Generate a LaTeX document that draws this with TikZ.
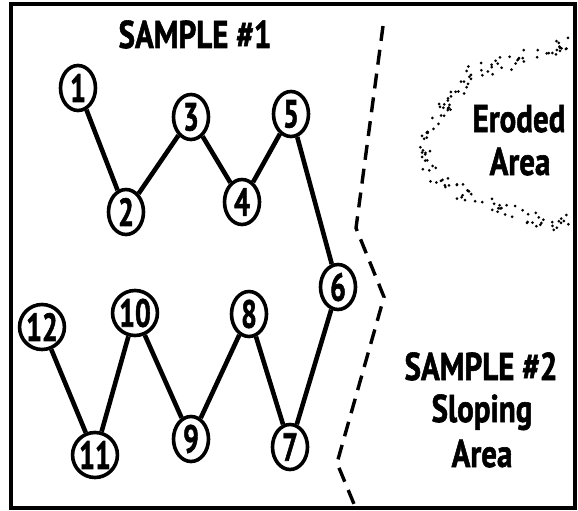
\documentclass[tikz,border=0pt]{standalone}
\usepackage{fontspec}
\usepackage{graphicx}
\setmainfont{PT Sans}[BoldFeatures={FakeBold=1.6}]
\usetikzlibrary{shapes.geometric,calc}
\tikzset{
  stn/.style={ellipse, draw, line width=3.6pt, fill=white, minimum width=35pt, minimum height=45pt, inner sep=0pt,
    font=\fontsize{28}{30}\selectfont\bfseries},
  link/.style={line width=4.6pt},
  lbl/.style={anchor=base, inner sep=0pt, font=\fontsize{31}{34}\selectfont\bfseries},
  bound/.style={line width=3.4pt, dash pattern=on 15pt off 9pt},
  frame/.style={line width=3.4pt},
  grain/.style={fill=black}
}
\newcommand{\tall}[1]{\scalebox{1}[1.25]{#1}}
\newcommand{\dgt}[1]{\scalebox{1}[1.4]{#1}}
\begin{document}
\begin{tikzpicture}[x=1pt,y=-1pt]
\useasboundingbox (0,0) rectangle (578,511);
\fill[white] (0,0) rectangle (578,511);
\draw[frame] (11,4) rectangle (575,508);

% stations
\node[stn] (n1) at (78,88) {\dgt{1}};
\node[stn] (n2) at (126,212) {\dgt{2}};
\node[stn] (n3) at (191,117) {\dgt{3}};
\node[stn] (n4) at (242,202) {\dgt{4}};
\node[stn] (n5) at (291,114) {\dgt{5}};
\node[stn] (n6) at (338,287) {\dgt{6}};
\node[stn] (n7) at (290,447) {\dgt{7}};
\node[stn] (n8) at (249,314) {\dgt{8}};
\node[stn] (n9) at (191,439) {\dgt{9}};
\node[stn] (n10) at (135,313) {\dgt{10}};
\node[stn] (n11) at (95,455) {\dgt{11}};
\node[stn] (n12) at (42,327) {\dgt{12}};

\foreach \a/\b in {n1/n2,n2/n3,n3/n4,n4/n5,n5/n6,n6/n7,n7/n8,n8/n9,n9/n10,n10/n11,n11/n12}
  \draw[link] (\a) -- (\b);

% boundary
\coordinate (b1) at (383,26);
\coordinate (b2) at (356,228);
\coordinate (b3) at (384,297);
\coordinate (b4) at (337,463);
\coordinate (b5) at (354,504);
\draw[bound] (b1) -- (b2) -- (b3) -- (b4) -- (b5);

% eroded area dots
\pgfmathsetseed{11}
\foreach \xa/\ya/\xb/\yb in {570/44/557/47, 557/47/537/53, 537/53/517/60, 517/60/497/65, 497/65/477/72,
   477/72/463/82, 463/82/453/95, 453/95/446/108, 446/108/436/122, 436/122/427/138, 427/138/423/155,
   423/155/430/169, 430/169/443/182, 443/182/460/192, 460/192/477/199, 477/199/497/206, 497/206/517/214,
   517/214/537/220, 537/220/557/222, 557/222/570/222}
{
  \foreach \i in {1,...,7}
    \fill[grain] ($(\xa,\ya)!{rnd}!(\xb,\yb) + ({rand*6},{rand*8})$) circle (1.5pt);
}

% labels
\node[lbl] (s1) at (195,48) {\tall{SAMPLE \#1}};
\node[lbl] (e1) at (519,132) {\tall{Eroded}};
\node[lbl] (e2) at (520,175) {\tall{Area}};
\node[lbl] (s2) at (481,380) {\tall{SAMPLE \#2}};
\node[lbl] (s3) at (482,422) {\tall{Sloping}};
\node[lbl] (s4) at (482,467) {\tall{Area}};
\end{tikzpicture}
\end{document}
